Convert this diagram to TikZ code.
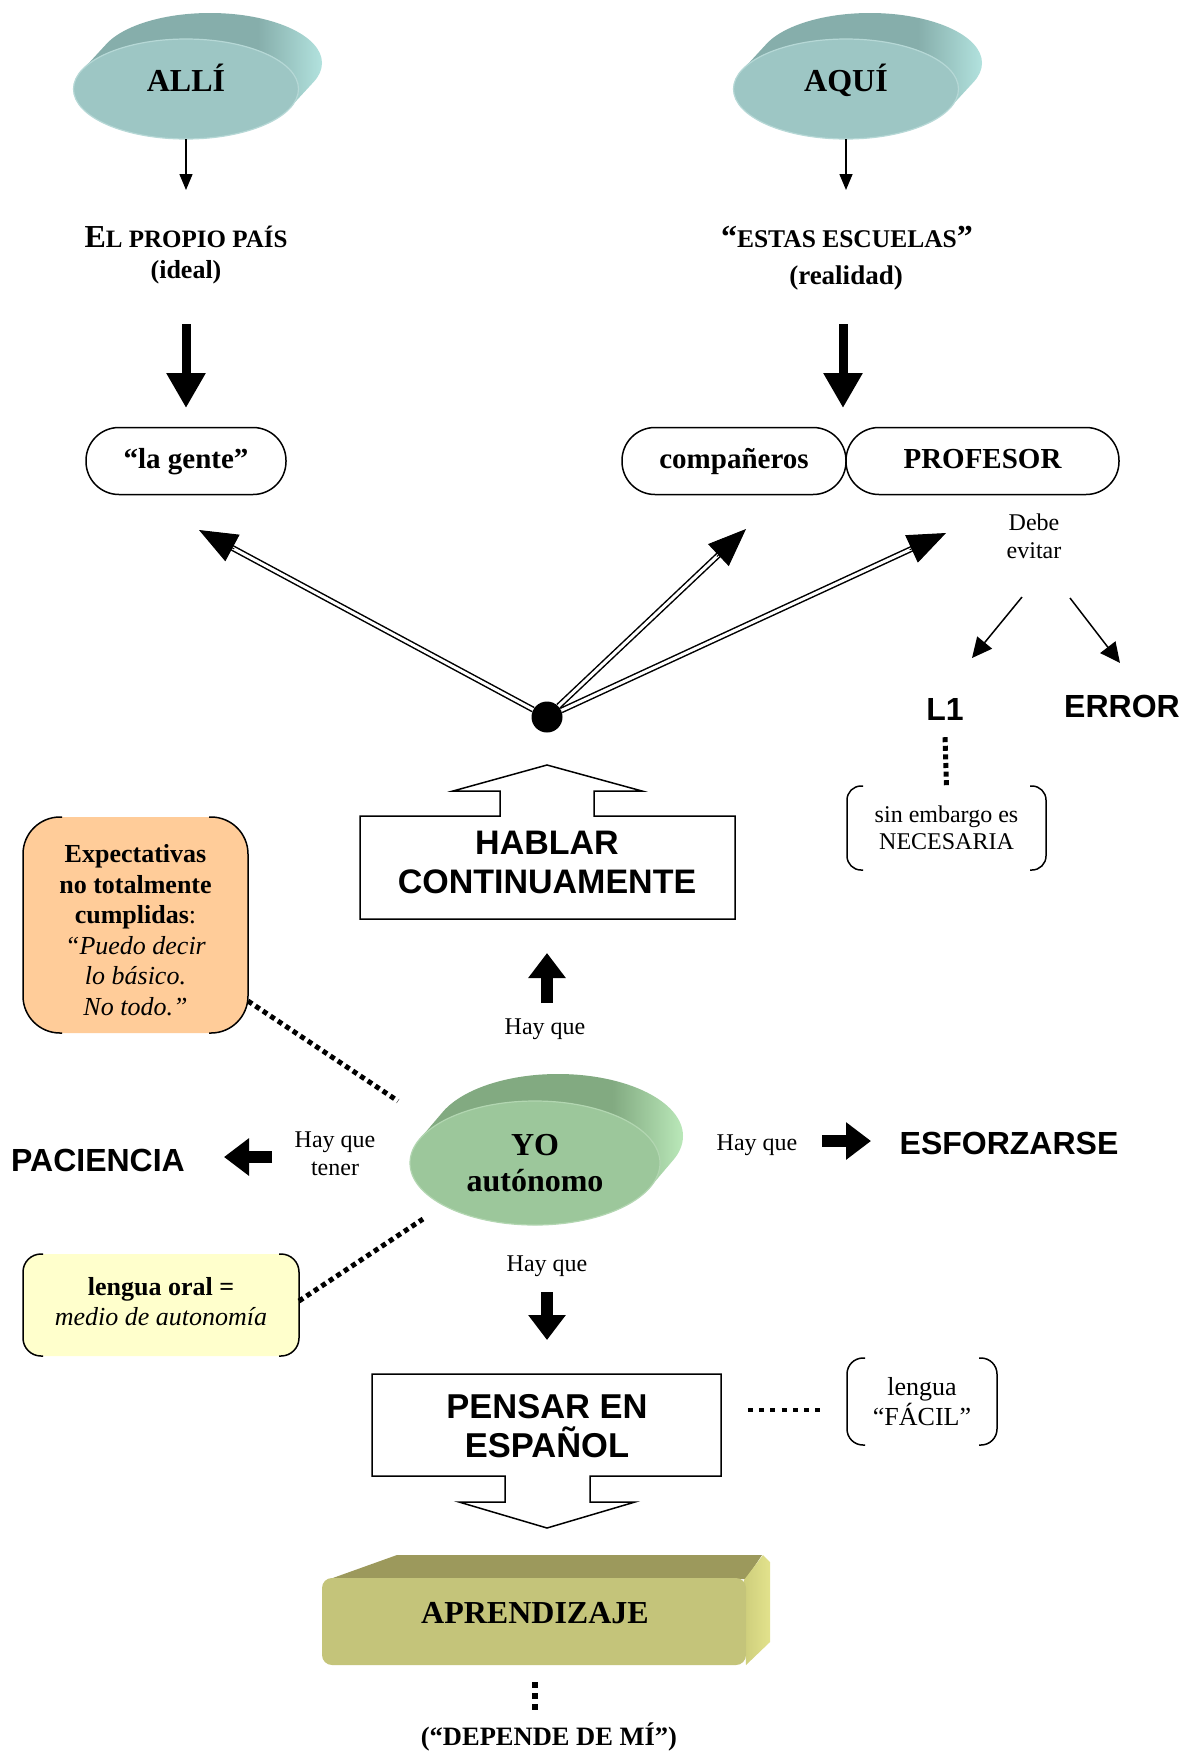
\documentclass[tikz,border=0pt]{standalone}
\usepackage{fontspec}
\setmainfont{Liberation Serif}
\newfontfamily\arialf{Liberation Sans}
\usetikzlibrary{arrows.meta,calc,shapes.geometric}
\newcommand\myfs[2]{\fontsize{#1}{#2}\selectfont}
\definecolor{tealfront}{RGB}{157,198,196}
\definecolor{tealrim}{RGB}{182,216,214}
\definecolor{tealdark}{RGB}{134,174,171}
\definecolor{teallight}{RGB}{178,226,222}
\definecolor{greenfront}{RGB}{156,199,155}
\definecolor{greenrim}{RGB}{178,214,177}
\definecolor{greendark}{RGB}{130,170,129}
\definecolor{greenlight}{RGB}{186,232,185}
\definecolor{peach}{RGB}{255,204,153}
\definecolor{paleyellow}{RGB}{255,255,204}
\definecolor{olivefront}{RGB}{196,196,122}
\definecolor{olivetop}{RGB}{156,153,92}
\definecolor{oliveside}{RGB}{226,226,140}
\definecolor{olivesidedark}{RGB}{206,206,124}
\pgfdeclarehorizontalshading{tealside}{100bp}{color(0bp)=(tealdark); color(25bp)=(tealdark); color(62bp)=(tealdark); color(75bp)=(teallight); color(100bp)=(teallight)}
\pgfdeclarehorizontalshading{greenside}{100bp}{color(0bp)=(greendark); color(25bp)=(greendark); color(62bp)=(greendark); color(75bp)=(greenlight); color(100bp)=(greenlight)}
\pgfdeclarehorizontalshading{oliveshade}{100bp}{color(0bp)=(olivesidedark); color(25bp)=(olivesidedark); color(75bp)=(oliveside); color(100bp)=(oliveside)}
\newcommand\brackets[2]{%
  \draw[bracket, rounded corners=#2] ([xshift=#2+2pt]#1.north west) -- (#1.north west) -- (#1.south west) -- ([xshift=#2+2pt]#1.south west);
  \draw[bracket, rounded corners=#2] ([xshift=-#2-2pt]#1.north east) -- (#1.north east) -- (#1.south east) -- ([xshift=-#2-2pt]#1.south east);}
\begin{document}
\begin{tikzpicture}[x=1pt,y=-1pt,
  ttl/.style={font=\bfseries\myfs{32}{36}, inner sep=0pt, anchor=base},
  pilltxt/.style={font=\bfseries\myfs{29}{34}, text height=21pt, text depth=7pt},
  pillbox/.style={draw, line width=1.5pt, rounded corners=33pt, inner sep=0pt, outer sep=0pt, minimum height=67pt},
  plain/.style={font=\myfs{24}{28}, inner sep=0pt, align=center},
  sansb/.style={font=\arialf\bfseries\myfs{32}{36}, inner sep=0pt, anchor=base},
  boxsans/.style={font=\arialf\bfseries\myfs{34}{39}, inner sep=0pt, align=center},
  thinarr/.style={line width=1.5pt, -{Triangle[length=16pt,width=13pt]}},
  bigarr/.style={line width=9pt, -{Triangle[length=35pt,width=37pt]}},
  fatarr/.style={line width=12pt, -{Triangle[length=25pt,width=36pt]}},
  midarr/.style={line width=1.5pt, -{Triangle[length=20pt,width=19pt]}},
  dline/.style={double, line width=1.5pt, double distance=3pt},
  dtip/.style={line width=1pt, -{Triangle[length=38pt,width=30pt]}},
  dots/.style={line width=5pt, dash pattern=on 5pt off 4pt},
  bracket/.style={line width=1.5pt},
  outline/.style={line width=1.5pt, line join=miter},
  bbox/.style={rectangle, inner sep=0pt, outer sep=0pt, align=center}
]
\useasboundingbox (0,0) rectangle (1182,1754);
\fill[white] (0,0) rectangle (1182,1754);

% ---- ALLI disk
\shade[shading=tealside] \foreach \i in {1,...,24} {({186+\i},{89-\i*26/24}) ellipse (112pt and 50pt)};
\node[ellipse, fill=tealfront, draw=tealrim, line width=1.2pt, minimum width=225pt, minimum height=100pt, inner sep=0pt, outer sep=0pt] (alli) at (186,89) {};
\node[ttl] (allit) at (186,91) {ALLÍ};
% ---- AQUI disk
\shade[shading=tealside] \foreach \i in {1,...,24} {({846+\i},{89-\i*26/24}) ellipse (112pt and 50pt)};
\node[ellipse, fill=tealfront, draw=tealrim, line width=1.2pt, minimum width=225pt, minimum height=100pt, inner sep=0pt, outer sep=0pt] (aqui) at (846,89) {};
\node[ttl] (aquit) at (846,91) {AQUÍ};

% thin arrows
\coordinate (e1) at (186,190);
\coordinate (e2) at (846,190);
\draw[thinarr] (alli.south) -- (e1);
\draw[thinarr] (aqui.south) -- (e2);

% headings
\node[anchor=base, inner sep=0pt, font=\bfseries] (propio) at (186,247) {{\myfs{32}{36}E}{\myfs{25}{30}L PROPIO PAÍS}};
\node[anchor=base, inner sep=0pt, font=\bfseries\myfs{26}{30}] (ideal) at (186,278) {(ideal)};
\node[anchor=base, inner sep=0pt, font=\bfseries] (escuelas) at (847,247) {{\myfs{32}{36}“}{\myfs{25.5}{30}ESTAS ESCUELAS}{\myfs{32}{36}”}};
\node[anchor=base, inner sep=0pt, font=\bfseries\myfs{27}{30}] (realidad) at (846,284) {(realidad)};

% big arrows
\coordinate (b1s) at (186,324); \coordinate (b1e) at (186,408);
\coordinate (b2s) at (843,324); \coordinate (b2e) at (843,408);
\draw[bigarr] (b1s) -- (b1e);
\draw[bigarr] (b2s) -- (b2e);

% pills
\node[pillbox, pilltxt, minimum width=200pt] (gente) at (186,461) {“la gente”};
\node[pillbox, pilltxt, minimum width=224pt] (comp) at (734,461) {compañeros};
\node[pillbox, pilltxt, minimum width=273pt] (prof) at (982.5,461) {PROFESOR};

% hub and double arrows
\node[circle, fill=black, minimum size=31pt, inner sep=0pt] (hub) at (547,717) {};
\coordinate (tA) at (199,530);
\coordinate (tB) at (746,529);
\coordinate (tC) at (946,533);
\foreach \t in {tA,tB,tC} {
  \draw[dline, shorten >=34pt] (hub) -- (\t);
  \draw[dtip] ($(\t)!40pt!(hub.center)$) -- (\t);
}

% Debe evitar
\node[plain] (debe) at (1034,536) {Debe\\evitar};
\coordinate (d1s) at (1022,597); \coordinate (d1e) at (972,658);
\coordinate (d2s) at (1070,598); \coordinate (d2e) at (1120,663);
\draw[midarr] (d1s) -- (d1e);
\draw[midarr] (d2s) -- (d2e);
\node[sansb] (l1) at (945,720) {L1};
\node[sansb] (error) at (1122,717) {ERROR};

% sin embargo
\node[bbox, font=\myfs{24}{27}, minimum width=199pt, minimum height=84pt] (sinemb) at (946.5,828) {sin embargo es\\NECESARIA};
\brackets{sinemb}{14pt}
\draw[dots, dash pattern=on 5pt off 3.6pt] ([yshift=-17pt]l1.south) -- (sinemb.north);

% HABLAR arrow box
\node[bbox, minimum width=375pt, minimum height=103pt] (hablar) at (547.5,867.5) {};
\draw[outline] (360,816) -- (500,816) -- (500,791) -- (453,791) -- (547,765) -- (642,791) -- (594,791) -- (594,816) -- (735,816) -- (735,919) -- (360,919) -- cycle;
\node[boxsans] (hablart) at (547,862) {HABLAR\\CONTINUAMENTE};

% Hay que (up)
\coordinate (u1) at (547,1003); \coordinate (u2) at (547,953);
\draw[fatarr] (u1) -- (u2);
\node[anchor=base, font=\myfs{24}{28}, inner sep=0pt] (hq1) at (545,1034) {Hay que};

% Expectativas box
\node[bbox, fill=peach, rounded corners=37pt, minimum width=225pt, minimum height=216pt] (expect) at (135.5,925) {};
\node[bbox, font=\myfs{26}{30.5}] (expectt) at (135.5,930) {\textbf{Expectativas}\\\textbf{no totalmente}\\\textbf{cumplidas}:\\\textit{“Puedo decir}\\\textit{lo básico.}\\\textit{No todo.”}};
\brackets{expect}{37pt}

% YO disk
\shade[shading=greenside] \foreach \i in {1,...,24} {({535+\i*23/24},{1163-\i*27/24}) ellipse (125pt and 62pt)};
\node[ellipse, fill=greenfront, draw=greenrim, line width=1.2pt, minimum width=250pt, minimum height=124pt, inner sep=0pt, outer sep=0pt, align=center, font=\bfseries\myfs{32}{36}] (yo) at (535,1163) {YO\\autónomo};

\coordinate (yoA) at (398,1101);
\coordinate (yoB) at (423,1219);
\draw[dots] ([yshift=-76pt]expect.east) -- (yoA);

% left: paciencia
\node[plain] (hqt) at (335,1154) {Hay que\\tener};
\coordinate (l1s) at (272,1157); \coordinate (l1e) at (224,1157);
\draw[fatarr] (l1s) -- (l1e);
\node[sansb] (paciencia) at (98,1171) {PACIENCIA};

% right: esforzarse
\node[anchor=base, font=\myfs{24}{28}, inner sep=0pt] (hq2) at (757,1150) {Hay que};
\coordinate (r1s) at (822,1141); \coordinate (r1e) at (871,1141);
\draw[fatarr] (r1s) -- (r1e);
\node[sansb] (esf) at (1009,1154) {ESFORZARSE};

% lengua oral box
\node[bbox, fill=paleyellow, rounded corners=18pt, minimum width=276pt, minimum height=102pt] (oral) at (161,1305) {};
\node[bbox, font=\myfs{26}{30}] (oralt) at (161,1301.5) {\textbf{lengua oral =}\\\textit{medio de autonomía}};
\brackets{oral}{18pt}
\draw[dots] ([yshift=4pt]oral.east) -- (yoB);

% Hay que (down)
\node[anchor=base, font=\myfs{24}{28}, inner sep=0pt] (hq3) at (547,1271) {Hay que};
\coordinate (dn1) at (547,1292); \coordinate (dn2) at (547,1340);
\draw[fatarr] (dn1) -- (dn2);

% PENSAR arrow box
\node[bbox, minimum width=349pt, minimum height=102pt] (pensar) at (546.5,1425) {};
\draw[outline] (372,1374) -- (721,1374) -- (721,1476) -- (590,1476) -- (590,1502) -- (635,1502) -- (547,1528) -- (459,1502) -- (505,1502) -- (505,1476) -- (372,1476) -- cycle;
\node[boxsans, font=\arialf\bfseries\myfs{34.5}{39}] (pensart) at (547,1426) {PENSAR EN\\ESPAÑOL};

% lengua FACIL
\node[bbox, font=\myfs{26}{30}, minimum width=150pt, minimum height=87pt] (facil) at (922,1401.5) {lengua\\“FÁCIL”};
\brackets{facil}{16pt}
\coordinate (h1) at (748,1410); \coordinate (h2) at (822,1410);
\draw[dots, line width=4.5pt, dash pattern=on 5pt off 6.2pt] (h1) -- (h2);

% APRENDIZAJE slab
\fill[olivetop] (330,1579) -- (397,1555) -- (762,1555) -- (746,1579) -- cycle;
\shade[shading=oliveshade] (744,1580) -- (763,1555) -- (770,1562) -- (770,1642) -- (746,1665) -- cycle;
\node[rectangle, rounded corners=10pt, fill=olivefront, minimum width=424pt, minimum height=87pt, inner sep=0pt] (aprend) at (534,1621.5) {};
\node[ttl] (aprendt) at (535,1623) {APRENDIZAJE};
\coordinate (ap1) at (535,1682); \coordinate (ap2) at (535,1710);
\draw[line width=6pt, dash pattern=on 6pt off 5pt] (ap1) -- (ap2);
\node[anchor=base, inner sep=0pt, font=\bfseries\myfs{26.5}{30}] (depende) at (549,1745) {(“DEPENDE DE MÍ”)};

\end{tikzpicture}
\end{document}
